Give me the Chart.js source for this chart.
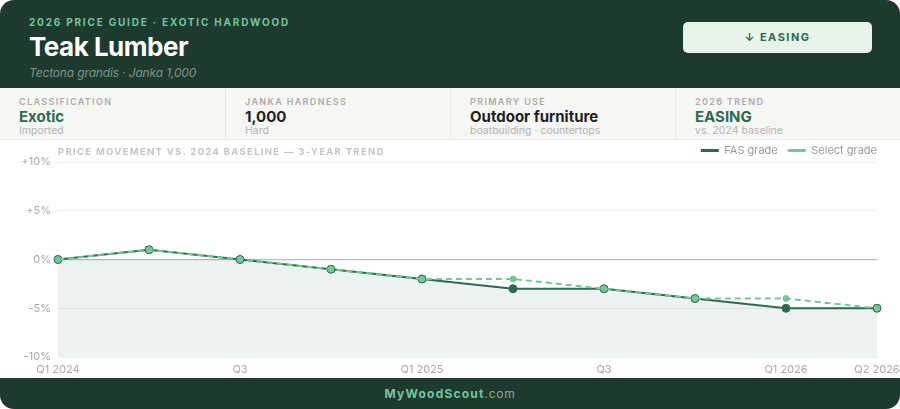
<!DOCTYPE html>
<html>
<head>
<meta charset="utf-8">
<script src="https://cdn.jsdelivr.net/npm/chart.js@4.4.1/dist/chart.umd.min.js"></script>
<style>
  html, body { margin: 0; padding: 0; background: #ffffff; }
  body { width: 900px; height: 409px; overflow: hidden; font-family: Inter, "Noto Sans", sans-serif; }
  .card { position: relative; width: 900px; height: 409px; border-radius: 14px; overflow: hidden; background: #fff; }
  .header { position: absolute; left: 0; top: 0; width: 900px; height: 88px; background: #1e3a2f; }
  .kicker { position: absolute; left: 29px; top: 16px; font-size: 10px; font-weight: 700; letter-spacing: 1.8px; color: #74c69d; }
  .title { position: absolute; left: 29px; top: 31px; font-size: 26px; font-weight: 700; letter-spacing: -0.5px; color: #ffffff; }
  .sub { position: absolute; left: 29px; top: 65px; font-size: 12px; font-style: italic; letter-spacing: -0.15px; color: #7d9387; }
  .badge { position: absolute; left: 683px; top: 22px; width: 189px; height: 31px; background: #e6f4ea; border-radius: 5px;
           text-align: center; line-height: 31px; font-size: 11px; font-weight: 700; letter-spacing: 1.5px; color: #2d6a4f; }
  .strip { position: absolute; left: 0; top: 88px; width: 900px; height: 51px; background: #f6f6f4; border-bottom: 1px solid #ebebe8; }
  .cell { position: absolute; top: 0; width: 225px; height: 51px; box-sizing: border-box; padding-left: 19px; }
  .cell + .cell { border-left: 1px solid #e8e8e5; }
  .lab { position: absolute; top: 8px; font-size: 9px; font-weight: 600; letter-spacing: 1.35px; color: #ababab; }
  .val { position: absolute; top: 19px; font-size: 15px; font-weight: 700; color: #1f1f1f; }
  .val.green { color: #2d6a4f; }
  .note { position: absolute; top: 36px; font-size: 10.5px; color: #b3b3b3; }
  .ctitle { position: absolute; left: 58px; top: 146px; font-size: 9.5px; font-weight: 700; letter-spacing: 1.3px; color: #c4c4c4; }
  .chartbox { position: absolute; left: 0; top: 140px; width: 900px; height: 238px; }
  .footer { position: absolute; left: 0; top: 378px; width: 900px; height: 31px; background: #1e3a2f; text-align: center;
            line-height: 31px; font-size: 12px; }
  .footer b { color: #74c69d; letter-spacing: 1.2px; }
  .footer span { color: #8fa59a; letter-spacing: 0.7px; }
</style>
</head>
<body>
<div class="card">
  <div class="header">
    <div class="kicker">2026 PRICE GUIDE · EXOTIC HARDWOOD</div>
    <div class="title">Teak Lumber</div>
    <div class="sub">Tectona grandis · Janka 1,000</div>
    <div class="badge">↓ EASING</div>
  </div>
  <div class="strip">
    <div class="cell" style="left:0"><div class="lab">CLASSIFICATION</div><div class="val green">Exotic</div><div class="note">Imported</div></div>
    <div class="cell" style="left:225px"><div class="lab">JANKA HARDNESS</div><div class="val">1,000</div><div class="note">Hard</div></div>
    <div class="cell" style="left:450px"><div class="lab">PRIMARY USE</div><div class="val">Outdoor furniture</div><div class="note">boatbuilding · countertops</div></div>
    <div class="cell" style="left:675px"><div class="lab">2026 TREND</div><div class="val green">EASING</div><div class="note">vs. 2024 baseline</div></div>
  </div>
  <div class="chartbox"><canvas id="trend"></canvas></div>
  <div class="ctitle">PRICE MOVEMENT VS. 2024 BASELINE — 3-YEAR TREND</div>
  <div class="footer"><b>MyWoodScout</b><span>.com</span></div>
</div>
<script>
  var quarters = ['Q1 2024', 'Q2', 'Q3', 'Q4', 'Q1 2025', 'Q2', 'Q3', 'Q4', 'Q1 2026', 'Q2 2026'];
  var fasGrade = [0, 1, 0, -1, -2, -3, -3, -4, -5, -5];
  var selectGrade = [0, 1, 0, -1, -2, -2, -3, -4, -4, -5];
  var yTicks = [-10, -5, 0, 5, 10];

  var dark = '#2d6a4f';
  var light = '#74c69d';

  // shade only the part under the line that sits below the baseline
  function belowZeroFill(ctx) {
    var chart = ctx.chart;
    var area = chart.chartArea;
    if (!area) return 'rgba(0,0,0,0)';
    var y0 = chart.scales.y.getPixelForValue(0);
    var f = Math.min(Math.max((y0 - area.top) / (area.bottom - area.top), 0), 1);
    var g = chart.ctx.createLinearGradient(0, area.top, 0, area.bottom);
    g.addColorStop(0, 'rgba(45,106,79,0)');
    g.addColorStop(f, 'rgba(45,106,79,0)');
    g.addColorStop(f, 'rgba(45,106,79,0.085)');
    g.addColorStop(1, 'rgba(45,106,79,0.085)');
    return g;
  }

  var ctx = document.getElementById('trend').getContext('2d');
  window.trendChart = new Chart(ctx, {
    type: 'line',
    data: {
      labels: quarters,
      datasets: [
        {
          label: 'FAS grade',
          data: fasGrade,
          order: 2,
          borderColor: dark,
          borderWidth: 2,
          backgroundColor: belowZeroFill,
          fill: 'start',
          pointRadius: 4,
          pointBackgroundColor: dark,
          pointBorderColor: dark,
          pointBorderWidth: 1,
          tension: 0
        },
        {
          label: 'Select grade',
          data: selectGrade,
          order: 1,
          borderColor: light,
          borderWidth: 2,
          borderDash: [6, 4],
          backgroundColor: light,
          fill: false,
          pointRadius: 3,
          pointBackgroundColor: light,
          pointBorderColor: light,
          pointBorderWidth: 1,
          tension: 0
        }
      ]
    },
    options: {
      responsive: true,
      maintainAspectRatio: false,
      animation: false,
      layout: { padding: { left: 0, right: 13, top: -5, bottom: 0 } },
      plugins: {
        legend: {
          display: true,
          position: 'top',
          align: 'end',
          maxHeight: 27,
          labels: {
            boxWidth: 18,
            boxHeight: 3,
            padding: 10,
            color: '#9a9a9a',
            font: { family: 'Inter', size: 11 },
            generateLabels: function (chart) {
              return chart.data.datasets.map(function (ds, i) {
                return {
                  text: ds.label,
                  fillStyle: ds.borderColor,
                  strokeStyle: ds.borderColor,
                  lineWidth: 0,
                  fontColor: '#9a9a9a',
                  datasetIndex: i,
                  hidden: false
                };
              });
            }
          }
        },
        tooltip: { enabled: false }
      },
      scales: {
        x: {
          grid: { display: false, drawTicks: false },
          border: { display: false },
          ticks: {
            autoSkip: false,
            maxRotation: 0,
            padding: 6,
            color: '#a8a8a8',
            font: { family: 'Inter', size: 11 },
            callback: function (v, i) {
              return (i % 2 === 0 || i === quarters.length - 1) ? quarters[i] : '';
            }
          },
          afterFit: function (scale) {
            scale.height = 21;
            scale.paddingLeft = 0;
            scale.paddingRight = 23;
          }
        },
        y: {
          min: -10,
          max: 10,
          afterBuildTicks: function (scale) {
            scale.ticks = yTicks.map(function (v) { return { value: v }; });
          },
          grid: {
            drawTicks: false,
            color: function (c) { return c.tick && c.tick.value === 0 ? '#bdbdbd' : '#efefef'; },
            lineWidth: function (c) { return c.tick && c.tick.value === 0 ? 1.2 : 1; }
          },
          border: { display: false },
          ticks: {
            padding: 7,
            color: '#a8a8a8',
            font: { family: 'Inter', size: 11 },
            callback: function (v) { return (v > 0 ? '+' : '') + v + '%'; }
          },
          afterFit: function (scale) { scale.width = 58; }
        }
      }
    }
  });
</script>
</body>
</html>
